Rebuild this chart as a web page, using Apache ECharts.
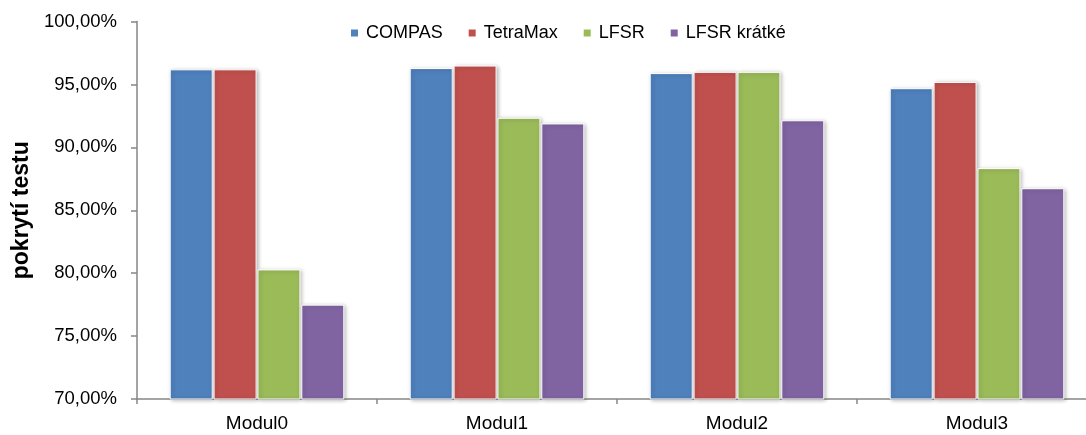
<!DOCTYPE html>
<html>
<head>
<meta charset="utf-8">
<title>pokrytí testu</title>
<script src="https://cdn.jsdelivr.net/npm/echarts@6/dist/echarts.min.js"></script>
<style>
  html, body { margin: 0; padding: 0; background: #fff; }
  #chart { width: 1086px; height: 435px; }
</style>
</head>
<body>
<div id="chart"></div>
<script>
// Test coverage per module (percent)
const categories = ['Modul0', 'Modul1', 'Modul2', 'Modul3'];
const seriesNames = ['COMPAS', 'TetraMax', 'LFSR', 'LFSR krátké'];
const compas = [96.2, 96.3, 95.9, 94.7];
const tetraMax = [96.2, 96.5, 96.0, 95.2];
const lfsr = [80.3, 92.35, 96.0, 88.35];
const lfsrKratke = [77.5, 91.9, 92.15, 86.75];
const colors = ['#4F81BD', '#C0504D', '#9BBB59', '#8064A2'];
const yMin = 70, yMax = 100, yStep = 5;

const font = '"Liberation Sans", Arial, sans-serif';
const values = [compas, tetraMax, lfsr, lfsrKratke];

const chart = echarts.init(document.getElementById('chart'));
chart.setOption({
  animation: false,
  color: colors,
  textStyle: { fontFamily: font },
  legend: {
    top: 23,
    left: 349,
    padding: 0,
    itemGap: 24,
    itemWidth: 9,
    itemHeight: 9,
    icon: 'rect',
    textStyle: { fontSize: 18, color: '#000', fontFamily: font, padding: [0, 0, 0, 2], lineHeight: 20 },
    data: seriesNames
  },
  grid: {
    left: 137,
    top: 21.5,
    width: 960,
    height: 377.5,
    outerBoundsMode: 'none'
  },
  xAxis: {
    type: 'category',
    data: categories,
    axisLine: { lineStyle: { color: '#868686', width: 1.5 } },
    axisTick: { show: true, length: 5, lineStyle: { color: '#868686', width: 1.5 } },
    axisLabel: { fontSize: 19, color: '#000', margin: 15, fontFamily: font },
    splitLine: { show: false }
  },
  yAxis: {
    type: 'value',
    min: yMin,
    max: yMax,
    interval: yStep,
    name: 'pokrytí testu',
    nameLocation: 'middle',
    nameGap: 102,
    nameRotate: 90,
    nameTextStyle: { fontSize: 23, fontWeight: 'bold', color: '#000', fontFamily: font },
    axisLine: { show: true, lineStyle: { color: '#868686', width: 1.5 } },
    axisTick: { show: true, length: 6, lineStyle: { color: '#868686', width: 1.5 } },
    axisLabel: {
      fontSize: 18.5,
      color: '#000',
      margin: 20,
      fontFamily: font,
      formatter: v => v.toFixed(2).replace('.', ',') + '%'
    },
    splitLine: { show: false }
  },
  series: seriesNames.map((name, i) => ({
    name,
    type: 'bar',
    data: values[i],
    barWidth: 43,
    barGap: '2%',
    itemStyle: {
      color: colors[i],
      borderColor: '#ffffff',
      borderWidth: 1,
      shadowBlur: 4,
      shadowOffsetX: 1.5,
      shadowOffsetY: 1,
      shadowColor: 'rgba(0,0,0,0.28)'
    }
  }))
});
</script>
</body>
</html>
